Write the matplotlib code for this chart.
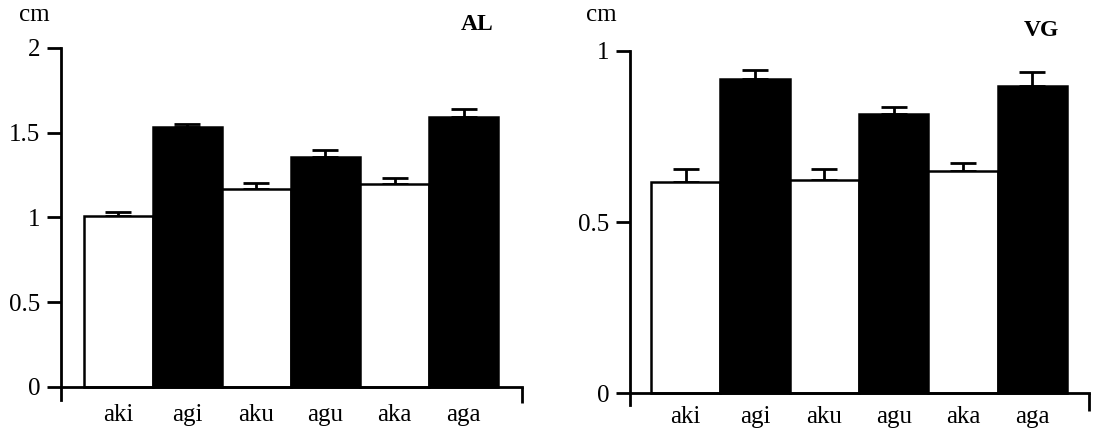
import matplotlib
matplotlib.use("Agg")
import matplotlib.pyplot as plt

plt.rcParams['font.family'] = ['Liberation Serif', 'DejaVu Serif']

# syllables on the x axis, voiceless (white) / voiced (black) alternate
syllables = ["aki", "agi", "aku", "agu", "aka", "aga"]
bar_colors = ["white", "black", "white", "black", "white", "black"]

# AL panel (cm)
al_means = [1.008, 1.531, 1.168, 1.355, 1.198, 1.594]
al_err = [0.027, 0.019, 0.036, 0.045, 0.037, 0.045]
al_ticks = [0, 0.5, 1, 1.5, 2]
al_ticklabels = ["0", "0.5", "1", "1.5", "2"]

# VG panel (cm)
vg_means = [0.616, 0.917, 0.623, 0.815, 0.650, 0.898]
vg_err = [0.039, 0.028, 0.032, 0.022, 0.024, 0.042]
vg_ticks = [0, 0.5, 1]
vg_ticklabels = ["0", "0.5", "1"]

fig = plt.figure(figsize=(10.99, 4.30), dpi=100)


def draw_panel(rect, means, err, ticks, ticklabels, ylim, xlim, tick_drop, xpad, name, name_xy, cm_xy):
    ax = fig.add_axes(rect)
    x = list(range(len(syllables)))
    ax.bar(x, means, width=1.0, color=bar_colors, edgecolor="black", linewidth=1.8, zorder=2)
    ax.errorbar(x, means, yerr=[[0] * len(err), err], fmt="none", ecolor="black",
                elinewidth=2.0, capsize=9.5, capthick=2.0, zorder=1)
    ax.set_xlim(xlim)
    ax.set_ylim(ylim)
    ax.spines["top"].set_visible(False)
    ax.spines["right"].set_visible(False)
    ax.spines["bottom"].set_position(("data", 0))
    for s in ("left", "bottom"):
        ax.spines[s].set_linewidth(2.0)
    ax.set_yticks(ticks)
    ax.set_yticklabels(ticklabels)
    ax.tick_params(axis="y", length=10, width=2.0, pad=5, labelsize=18)
    ax.set_xticks(x)
    ax.set_xticklabels(syllables)
    ax.tick_params(axis="x", length=0, pad=xpad, labelsize=18)
    # small downward stroke closing the x axis on the right
    ax.plot([xlim[1], xlim[1]], [0, tick_drop], color="black", linewidth=2.0,
            clip_on=False, solid_capstyle="butt")
    fig.text(name_xy[0], name_xy[1], name, fontsize=17, fontweight="bold",
             ha="center", va="center")
    fig.text(cm_xy[0], cm_xy[1], "cm", fontsize=18, ha="center", va="center")
    return ax


draw_panel([0.0555, 0.0698, 0.4195, 0.8186], al_means, al_err, al_ticks, al_ticklabels,
           (-0.077, 2), (-0.833, 5.848), -0.094, 12, "AL", (0.434, 0.944), (0.031, 0.966))
draw_panel([0.5732, 0.0581, 0.4177, 0.8233], vg_means, vg_err, vg_ticks, vg_ticklabels,
           (-0.035, 1), (-0.803, 5.817), -0.053, 9, "VG", (0.948, 0.930), (0.547, 0.966))

fig.savefig("out.png", dpi=100)
